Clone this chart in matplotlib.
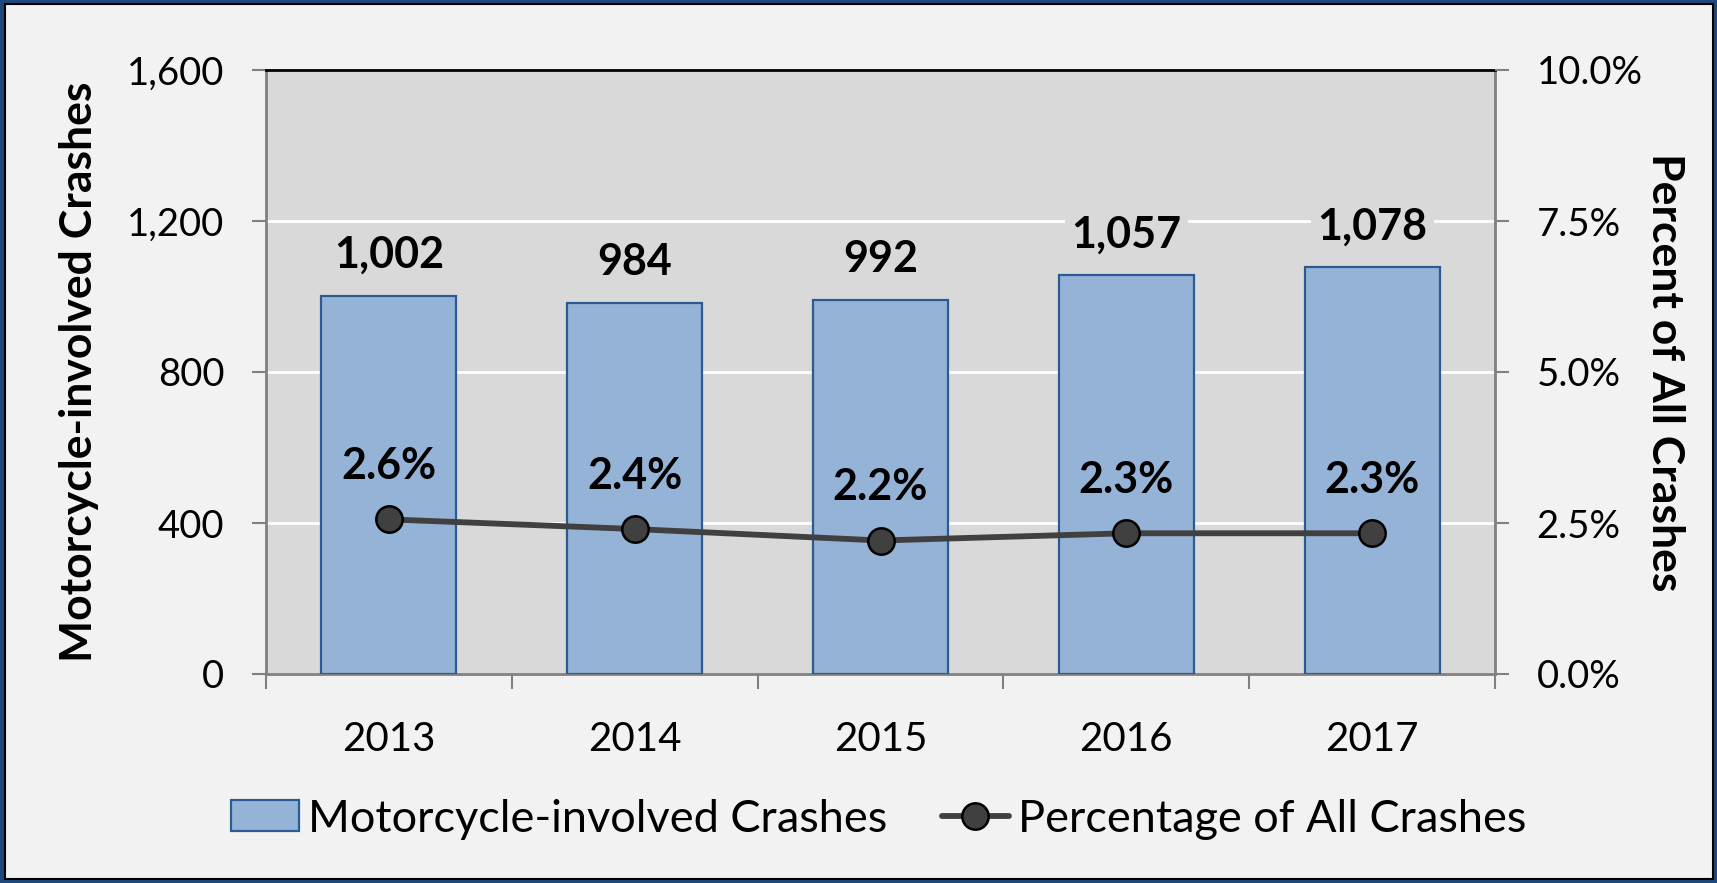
import matplotlib
matplotlib.use("Agg")
import matplotlib.pyplot as plt
from matplotlib.patches import Rectangle, Patch
from matplotlib.lines import Line2D
from matplotlib.ticker import FuncFormatter, FixedLocator
import numpy as np

years = ["2013", "2014", "2015", "2016", "2017"]
crashes = [1002, 984, 992, 1057, 1078]
pct_all = [2.56, 2.40, 2.21, 2.33, 2.33]

bar_label = "Motorcycle-involved Crashes"
line_label = "Percentage of All Crashes"
left_ylabel = "Motorcycle-involved Crashes"
right_ylabel = "Percent of All Crashes"

plt.rcParams['font.family'] = ['Lato', 'DejaVu Sans']

W, H = 1717, 883
fig = plt.figure(figsize=(W / 100, H / 100), dpi=100)
fig.patch.set_facecolor('#1F497D')
# inner panel with black outline
fig.patches.append(Rectangle((5 / W, 4 / H), (W - 9) / W, (H - 8) / H,
                             transform=fig.transFigure, facecolor='#F2F2F2',
                             edgecolor='black', linewidth=1.5, zorder=-10))

ax = fig.add_axes([266 / W, 209 / H, 1229 / W, 604 / H])
ax.set_facecolor('#D9D9D9')
x = np.arange(len(years))
ax.bar(x, crashes, width=0.55, color='#95B3D7', edgecolor='#2C5A92', linewidth=1.6, zorder=3)
ax.set_xlim(-0.5, len(years) - 0.5)
ax.set_ylim(0, 1600)
ax.set_yticks([0, 400, 800, 1200, 1600])
ax.yaxis.set_major_formatter(FuncFormatter(lambda v, p: f"{int(v):,}"))
ax.grid(axis='y', color='white', linewidth=2, zorder=1)
ax.set_axisbelow(True)

ax.set_xticks(x)
ax.set_xticklabels(years)
ax.xaxis.set_minor_locator(FixedLocator(np.arange(-0.5, len(years), 1.0)))
ax.tick_params(axis='x', which='major', length=0, pad=34, labelsize=29, colors='black')
ax.tick_params(axis='x', which='minor', length=11, width=1.5, color='#808080', direction='out')
ax.tick_params(axis='y', length=10, width=1.5, color='#808080', pad=20, labelsize=27.5, labelcolor='black')

for s in ['left', 'bottom', 'right']:
    ax.spines[s].set_color('#808080')
    ax.spines[s].set_linewidth(2)
ax.spines['top'].set_color('black')
ax.spines['top'].set_linewidth(2)

ax.set_ylabel(left_ylabel, fontsize=32, fontweight='bold')
ax.yaxis.set_label_coords(-0.136, 0.5)

for xi, v in zip(x, crashes):
    ax.annotate(f"{v:,}", (xi, v), xytext=(0, 20), textcoords='offset points',
                ha='center', va='baseline', fontsize=31, fontweight='bold',
                bbox=dict(boxstyle='square,pad=0.15', facecolor='#D9D9D9', edgecolor='none'),
                zorder=5)

ax2 = ax.twinx()
ax2.set_ylim(0, 10)
ax2.set_yticks([0, 2.5, 5, 7.5, 10])
ax2.yaxis.set_major_formatter(FuncFormatter(lambda v, p: f"{v:.1f}%"))
ax2.tick_params(axis='y', length=10, width=1.5, color='#808080', pad=20, labelsize=27.5, labelcolor='black')
for s in ax2.spines.values():
    s.set_visible(False)
ax2.plot(x, pct_all, color='#404040', linewidth=4.2, marker='o', markersize=19,
         markerfacecolor='#404040', markeredgecolor='black', markeredgewidth=1.8,
         solid_capstyle='round', zorder=4)
for xi, v in zip(x, pct_all):
    ax2.annotate(f"{v:.1f}%", (xi, v), xytext=(0, 29), textcoords='offset points',
                 ha='center', va='baseline', fontsize=31, fontweight='bold', zorder=5)
ax2.set_ylabel(right_ylabel, fontsize=32, fontweight='bold', rotation=-90, va='bottom')
ax2.yaxis.set_label_coords(1.122, 0.5)

handles = [Patch(facecolor='#95B3D7', edgecolor='#2C5A92', linewidth=1.6),
           Line2D([0], [0], color='#404040', linewidth=4.2, marker='o', markersize=19,
                  markerfacecolor='#404040', markeredgecolor='black', markeredgewidth=1.8,
                  solid_capstyle='round')]
fig.legend(handles, [bar_label, line_label], loc='center', bbox_to_anchor=(0.512, 1 - 819 / H),
           ncol=2, frameon=False, fontsize=32.5, handlelength=1.5, handleheight=0.67,
           handletextpad=0.2, columnspacing=1.2)

fig.savefig("out.png", dpi=100, facecolor=fig.get_facecolor())
